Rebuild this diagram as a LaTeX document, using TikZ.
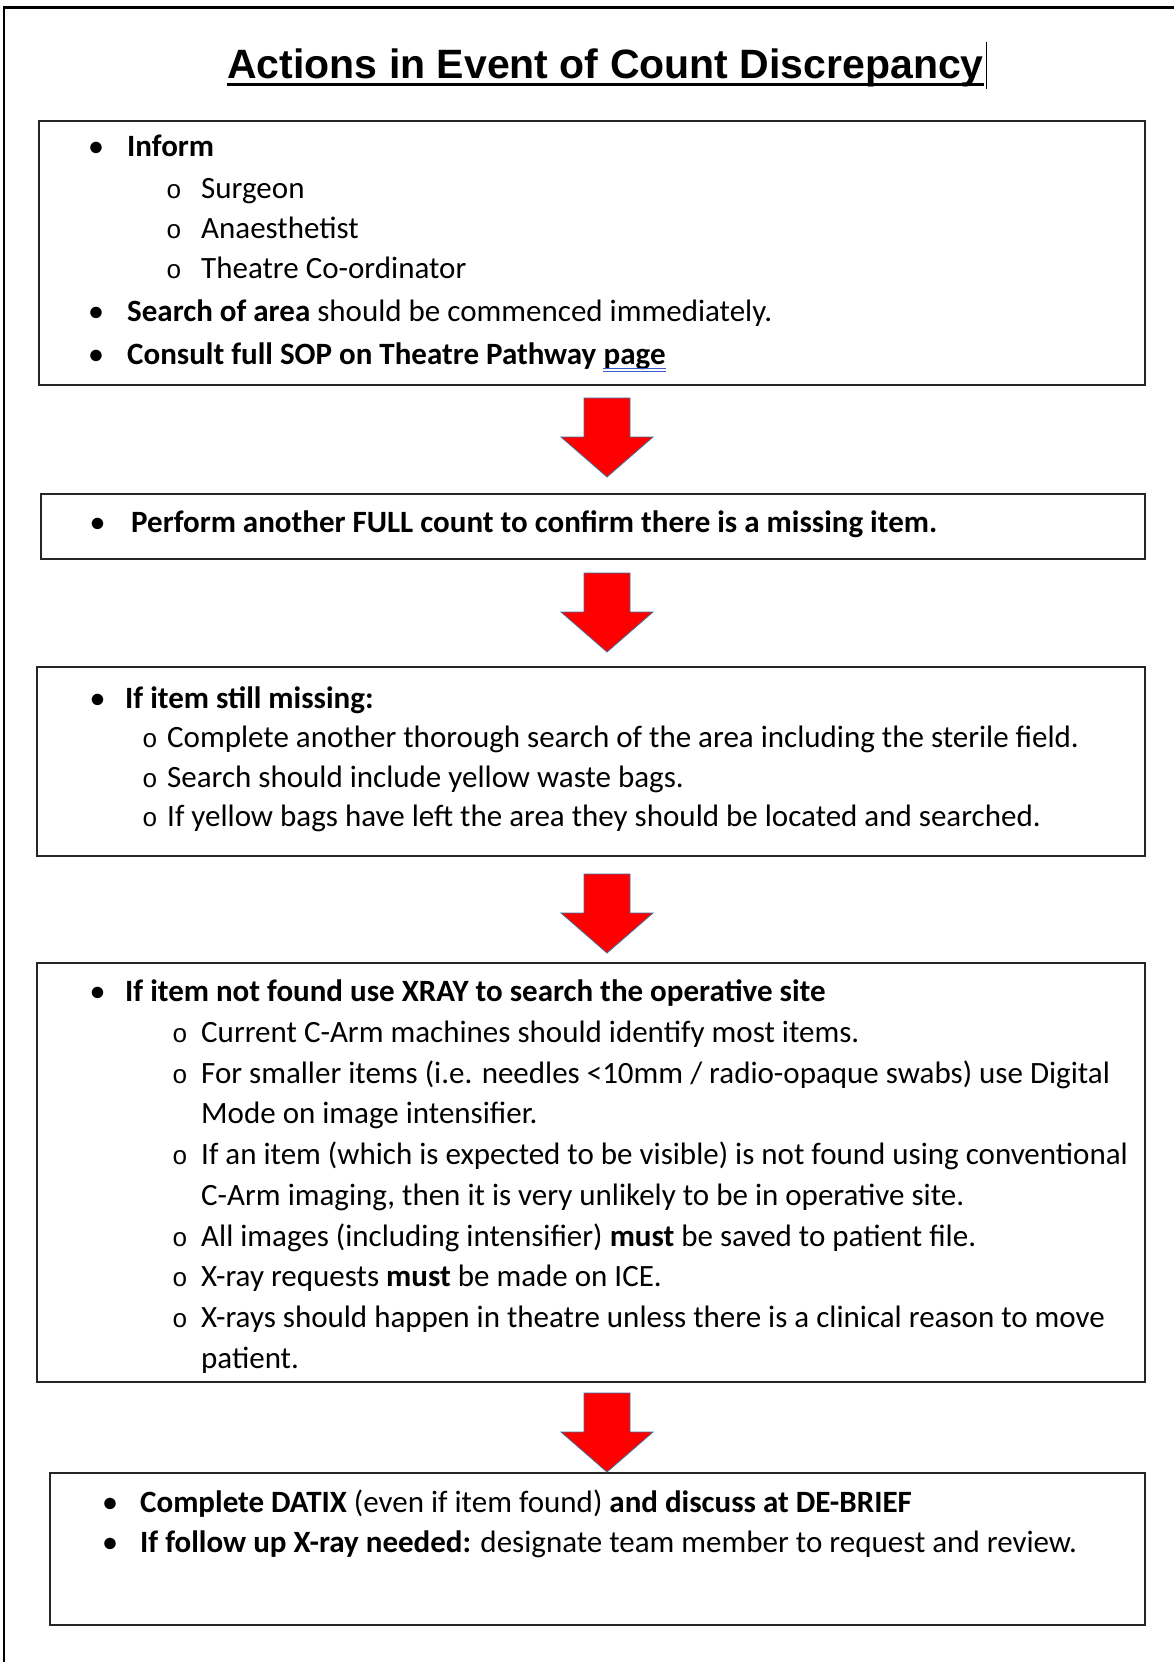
\documentclass[tikz,border=0pt]{standalone}
\usepackage{fontspec}
\setmainfont{Carlito}
\setmonofont{Liberation Mono}
\newfontfamily\titlefont{Liberation Sans}
\newcommand\bodysize{\fontsize{31}{37}\selectfont}
\newcommand\rdarrow[2]{%
  \draw[redarrow] (#1,#2) ++(-23,0) -- ++(46,0) -- ++(0,39) -- ++(23,0)
    -- ++(-46,40) -- ++(-46,-40) -- ++(23,0) -- cycle;}
\definecolor{arrowred}{RGB}{255,0,0}
\definecolor{arrowedge}{RGB}{65,113,156}
\definecolor{linkblue}{RGB}{60,90,200}
\begin{document}
\begin{tikzpicture}[x=1pt,y=-1pt,
  box/.style={draw=black!85, line width=1.6pt, minimum width=#1, anchor=north west, inner sep=0pt},
  txt/.style={anchor=base west, inner sep=0pt, font=\bodysize},
  bul/.style={anchor=base, inner sep=0pt, font=\fontsize{27}{32}\selectfont\bfseries},
  subbul/.style={anchor=base, inner sep=0pt, font=\fontsize{26}{31}\selectfont\ttfamily},
  redarrow/.style={fill=arrowred, draw=arrowedge, line width=0.8pt, line join=miter}]
\useasboundingbox (0,0) rectangle (1174,1662);
\fill[white] (0,0) rectangle (1174,1662);
% outer frame
\draw[line width=2.2pt, black] (1174,7.5) -- (4,7.5) -- (4,1662);
% title
\node[anchor=base, inner sep=0pt, font=\titlefont\bfseries\fontsize{41}{46}\selectfont] (title) at (605.5,78) {Actions in Event of Count Discrepancy};
\draw[line width=3pt] ([yshift=-6pt]title.base west) -- ([yshift=-6pt]title.base east);
\draw[line width=1pt] ([xshift=3pt]title.east |- 0,42) coordinate (cur1) -- ([xshift=3pt]title.east |- 0,89) coordinate (cur2);
% boxes
\node[box=1106pt, minimum height=264pt] (b1) at (38,120) {};
\node[box=1104pt, minimum height=65pt] (b2) at (40,493) {};
\node[box=1108pt, minimum height=189pt] (b3) at (36,666) {};
\node[box=1108pt, minimum height=419pt] (b4) at (36,962) {};
\node[box=1095pt, minimum height=152pt] (b5) at (49,1472) {};
% arrows
\rdarrow{607}{398}
\rdarrow{607}{573}
\rdarrow{607}{874}
\rdarrow{607}{1393}
% box 1
\node[bul] (b1d1) at (96,155) {•};
\node[txt] (b1t1) at (127,156) {\textbf{Inform}};
\node[subbul] (b1o1) at (174,198) {o};
\node[txt] (b1s1) at (201,198) {Surgeon};
\node[subbul] (b1o2) at (174,238) {o};
\node[txt] (b1s2) at (201,238) {Anaesthetist};
\node[subbul] (b1o3) at (174,278) {o};
\node[txt] (b1s3) at (201,278) {Theatre Co-ordinator};
\node[bul] (b1d2) at (96,320) {•};
\node[txt] (b1t2) at (127,321) {\textbf{Search of area} should be commenced immediately.};
\node[bul] (b1d3) at (96,363) {•};
\node[txt] (b1t3) at (127,364) {\textbf{Consult full SOP on Theatre Pathway}};
\node[txt] (page) at ([xshift=7pt]b1t3.base east) {\textbf{page}};
\draw[linkblue, line width=1pt] ([yshift=-4pt]page.base west) -- ([yshift=-4pt]page.base east);
\draw[linkblue, line width=1pt] ([yshift=-7pt]page.base west) -- ([yshift=-7pt]page.base east);
% box 2
\node[bul] (b2d1) at (97.5,531) {•};
\node[txt] (b2t1) at (131,532) {\textbf{Perform another FULL count to confirm there is a missing item.}};
% box 3
\node[bul] (b3d1) at (97.5,707) {•};
\node[txt] (b3t1) at (125,708) {\textbf{If item still missing:}};
\node[subbul] (b3o1) at (150,747) {o};
\node[txt] (b3s1) at (167,747) {Complete another thorough search of the area including the sterile field.};
\node[subbul] (b3o2) at (150,787) {o};
\node[txt] (b3s2) at (167,787) {Search should include yellow waste bags.};
\node[subbul] (b3o3) at (150,826) {o};
\node[txt] (b3s3) at (167,826) {If yellow bags have left the area they should be located and searched.};
% box 4
\node[bul] (b4d1) at (97.5,1000) {•};
\node[txt] (b4t1) at (125,1001) {\textbf{If item not found use XRAY to search the operative site}};
\node[subbul] (b4o1) at (180,1042) {o};
\node[txt] (b4s1) at (201,1042) {Current C-Arm machines should identify most items.};
\node[subbul] (b4o2) at (180,1083) {o};
\node[txt] (b4s2) at (201,1083) {For smaller items (i.e. needles <10mm / radio-opaque swabs) use Digital};
\node[txt] (b4s2b) at (201,1123) {Mode on image intensifier.};
\node[subbul] (b4o3) at (180,1164) {o};
\node[txt] (b4s3) at (201,1164) {If an item (which is expected to be visible) is not found using conventional};
\node[txt] (b4s3b) at (201,1205) {C-Arm imaging, then it is very unlikely to be in operative site.};
\node[subbul] (b4o4) at (180,1246) {o};
\node[txt] (b4s4) at (201,1246) {All images (including intensifier) \textbf{must} be saved to patient file.};
\node[subbul] (b4o5) at (180,1286) {o};
\node[txt] (b4s5) at (201,1286) {X-ray requests \textbf{must} be made on ICE.};
\node[subbul] (b4o6) at (180,1327) {o};
\node[txt] (b4s6) at (201,1327) {X-rays should happen in theatre unless there is a clinical reason to move};
\node[txt] (b4s6b) at (201,1368) {patient.};
% box 5
\node[bul] (b5d1) at (110,1511) {•};
\node[txt] (b5t1) at (140,1512) {\textbf{Complete DATIX} (even if item found) \textbf{and discuss at DE-BRIEF}};
\node[bul] (b5d2) at (110,1551) {•};
\node[txt] (b5t2) at (140,1552) {\textbf{If follow up X-ray needed:} designate team member to request and review.};
\end{tikzpicture}
\end{document}
